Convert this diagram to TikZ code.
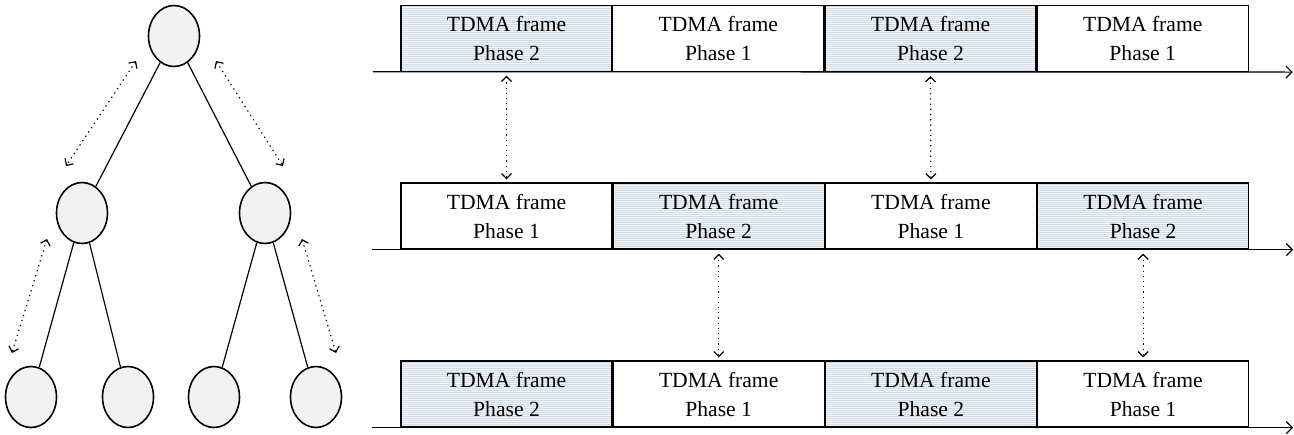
\documentclass[tikz,border=0pt]{standalone}
\usepackage{fontspec}
\setmainfont{Liberation Serif}
\usepackage{tikz}
\usetikzlibrary{positioning, arrows.meta, shapes.geometric, patterns.meta}

\begin{document}
\begin{tikzpicture}[
            x=0.5pt, y=-0.5pt,
            vertex/.style={ellipse, draw, line width=0.8pt, fill=gray!10, minimum width=25.5pt, minimum height=30.5pt, inner sep=0pt},
            frame/.style={rectangle, draw, line width=0.6pt, minimum width=105.5pt, minimum height=33pt, inner sep=0pt, align=center,
                font=\fontsize{10.8}{14.5}\selectfont},
            shaded/.style={preaction={fill={rgb,255:red,244;green,245;blue,246}},
                pattern={Lines[angle=0, distance=1pt, line width=0.22pt]}, pattern color={rgb,255:red,208;green,220;blue,232}},
            phase/.code={\ifnum#1=2 \tikzset{shaded}\fi},
            tip/.style={line width=0.6pt, -{Straight Barb[length=3pt, width=6pt]}},
            link/.style={line width=0.6pt, dotted, {Straight Barb[length=2.5pt, width=5pt]}-{Straight Barb[length=2.5pt, width=5pt]}},
            node distance=0pt
        ]
        \useasboundingbox (0,0) rectangle (1294,434);

        % tree
        \node[vertex] (root) at (174,36) {};
        \node[vertex] (ml) at (82,213) {};
        \node[vertex] (mr) at (265,213) {};
        \node[vertex] (l1) at (31,397) {};
        \node[vertex] (l2) at (128,397) {};
        \node[vertex] (l3) at (214,397) {};
        \node[vertex] (l4) at (316,397) {};

        \draw[line width=0.6pt] (root) -- (ml);
        \draw[line width=0.6pt] (root) -- (mr);
        \draw[line width=0.6pt] (ml) -- (l1);
        \draw[line width=0.6pt] (ml) -- (l2);
        \draw[line width=0.6pt] (mr) -- (l3);
        \draw[line width=0.6pt] (mr) -- (l4);

        \coordinate (a1) at (136,61);
        \coordinate (b1) at (66,166);
        \coordinate (a2) at (216,61);
        \coordinate (b2) at (283,166);
        \coordinate (a3) at (47,239);
        \coordinate (b3) at (12,353);
        \coordinate (a4) at (302,239);
        \coordinate (b4) at (336,353);
        \foreach \i in {1,...,4}
            \draw[link] (a\i) -- (b\i);

        % TDMA frames
        \foreach \r/\y/\p/\q in {1/38.5/2/1, 2/216/1/2, 3/394/2/1} {
            \node[frame, phase=\p] (f\r-1) at (506.5,\y) {TDMA frame\\Phase \p};
            \node[frame, phase=\q, right=of f\r-1] (f\r-2) {TDMA frame\\Phase \q};
            \node[frame, phase=\p, right=of f\r-2] (f\r-3) {TDMA frame\\Phase \p};
            \node[frame, phase=\q, right=of f\r-3] (f\r-4) {TDMA frame\\Phase \q};
            \coordinate (s\r) at ([xshift=-14pt]f\r-1.south west);
            \coordinate (e\r) at ([xshift=22pt]f\r-4.south east);
            \draw[tip] (s\r) -- (e\r);
        }

        \draw[link, shorten <=2pt, shorten >=1.5pt] (f1-1.south) -- (f2-1.north);
        \draw[link, shorten <=2pt, shorten >=1.5pt] (f1-3.south) -- (f2-3.north);
        \draw[link, shorten <=2pt, shorten >=1.5pt] (f2-2.south) -- (f3-2.north);
        \draw[link, shorten <=2pt, shorten >=1.5pt] (f2-4.south) -- (f3-4.north);

    \end{tikzpicture}
\end{document}
